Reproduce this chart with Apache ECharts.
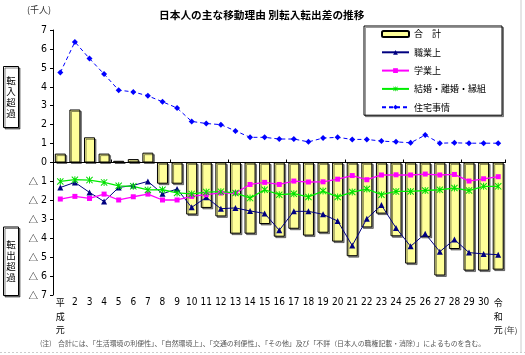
<!DOCTYPE html>
<html><head><meta charset="utf-8">
<script src="https://cdn.jsdelivr.net/npm/echarts@6/dist/echarts.min.js"></script>
<style>html,body{margin:0;padding:0;background:#fff}#c{width:525px;height:355px}</style>
</head><body><div id="c"></div>
<script>
const categories = ['平成元','2','3','4','5','6','7','8','9','10','11','12','13','14','15','16','17','18','19','20','21','22','23','24','25','26','27','28','29','30','令和元'];
const yTicks = [-7,-6,-5,-4,-3,-2,-1,0,1,2,3,4,5,6,7];
const seriesNames = ['合　計','職業上','学業上','結婚・離婚・縁組','住宅事情'];
const total = [0.47,2.80,1.33,0.47,0.09,0.18,0.52,-1.12,-1.12,-2.75,-2.40,-2.85,-3.76,-3.76,-3.25,-3.92,-3.50,-3.86,-3.71,-4.18,-4.95,-3.43,-2.70,-3.90,-5.34,-3.93,-5.97,-4.57,-5.71,-5.71,-5.66];
const occupation = [-1.32,-1.05,-1.58,-2.06,-1.32,-1.21,-1.00,-1.65,-1.40,-2.37,-1.84,-2.44,-2.40,-2.56,-2.69,-3.58,-2.58,-2.58,-2.74,-3.09,-4.39,-2.97,-2.25,-3.46,-4.43,-3.76,-4.71,-4.07,-4.76,-4.83,-4.87];
const education = [-1.93,-1.79,-1.90,-1.67,-1.98,-1.81,-1.67,-1.98,-1.98,-1.79,-1.70,-1.61,-1.61,-1.16,-1.05,-1.16,-0.98,-1.03,-1.02,-0.88,-0.69,-0.91,-0.66,-0.65,-0.66,-0.61,-0.66,-0.63,-0.98,-0.86,-0.75];
const marriage = [-1.00,-0.91,-0.93,-1.05,-1.23,-1.26,-1.45,-1.44,-1.61,-1.66,-1.56,-1.54,-1.61,-1.88,-1.44,-1.70,-1.65,-1.82,-1.51,-1.82,-1.56,-1.40,-1.70,-1.53,-1.53,-1.48,-1.44,-1.35,-1.48,-1.26,-1.26];
const housing = [4.75,6.37,5.49,4.67,3.82,3.73,3.52,3.21,2.88,2.17,2.06,2.00,1.67,1.33,1.33,1.24,1.24,1.09,1.29,1.33,1.22,1.22,1.13,1.09,1.04,1.45,1.02,1.04,1.02,1.02,1.02];

const NUM = "'Liberation Sans Narrow','DejaVu Sans Condensed',sans-serif";
const JP = "'Noto Sans CJK JP',sans-serif";
const ASTER = 'path://M0,1L1,0L10,9L9,10Z M9,0L10,1L1,10L0,9Z M4.3,0L5.7,0L5.7,10L4.3,10Z';

const chart = echarts.init(document.getElementById('c'), null, {renderer: 'canvas'});
const xLabelFmt = v => /^\d+$/.test(v) ? v : v.split('').map(ch => '{c|' + ch + '}').join('\n');

const option = {
  animation: false,
  backgroundColor: '#fff',
  title: {
    text: '日本人の主な移動理由 別転入転出差の推移',
    left: 154, top: 5,
    textStyle: {fontFamily: JP, fontSize: 10.7, fontWeight: 'bold', color: '#000'}
  },
  legend: {
    data: seriesNames,
    orient: 'vertical', left: 364, top: 26,
    itemWidth: 27, itemHeight: 6, itemGap: 6.3,
    padding: [2, 16, 2, 17],
    borderColor: '#000', borderWidth: 1, backgroundColor: '#fff',
    shadowColor: 'rgba(0,0,0,0.4)', shadowOffsetX: 1.5, shadowOffsetY: 1.5, shadowBlur: 0,
    textStyle: {fontFamily: JP, fontSize: 9, lineHeight: 12, color: '#000'}
  },
  grid: {left: 53, right: 19.5, top: 30, bottom: 60},
  xAxis: [
    {
      type: 'category', data: categories, position: 'bottom',
      axisLine: {onZero: true, lineStyle: {color: '#000', width: 1}},
      axisTick: {show: true, inside: true, length: 3, lineStyle: {color: '#000'}},
      axisLabel: {show: false}, splitLine: {show: false}
    },
    {
      type: 'category', data: categories, position: 'bottom',
      axisLine: {show: false, onZero: false}, axisTick: {show: false},
      axisLabel: {
        interval: 0, margin: 1, verticalAlign: 'top', color: '#000',
        fontFamily: NUM, fontSize: 10, lineHeight: 13.5,
        formatter: xLabelFmt,
        rich: {c: {fontFamily: JP, fontSize: 9, lineHeight: 13.5, color: '#000'}}
      }
    }
  ],
  yAxis: {
    type: 'value', min: yTicks[0], max: yTicks[yTicks.length - 1], interval: 1,
    axisLine: {show: true, lineStyle: {color: '#000', width: 1}},
    axisTick: {show: true, length: 3, lineStyle: {color: '#000'}},
    splitLine: {show: false},
    axisLabel: {
      margin: 6, color: '#000', fontFamily: NUM, fontSize: 10.5,
      formatter: v => v < 0 ? '{t|△} ' + (-v) : String(v),
      rich: {t: {fontFamily: JP, fontSize: 9.5, color: '#000'}}
    }
  },
  series: [
    {
      name: seriesNames[0], type: 'bar', data: total, xAxisIndex: 0, barWidth: 11,
      itemStyle: {color: '#ffff99', borderColor: '#000', borderWidth: 1,
        shadowColor: 'rgba(0,0,0,0.45)', shadowOffsetX: 1.5, shadowOffsetY: 1.5, shadowBlur: 0}
    },
    {
      name: seriesNames[1], type: 'line', data: occupation, xAxisIndex: 0,
      symbol: 'triangle', symbolSize: 6, showAllSymbol: true,
      lineStyle: {color: '#000080', width: 1}, itemStyle: {color: '#000080'}
    },
    {
      name: seriesNames[2], type: 'line', data: education, xAxisIndex: 0,
      symbol: 'rect', symbolSize: 5, showAllSymbol: true,
      lineStyle: {color: '#ff00ff', width: 1.3}, itemStyle: {color: '#ff00ff'}
    },
    {
      name: seriesNames[3], type: 'line', data: marriage, xAxisIndex: 0,
      symbol: ASTER, symbolSize: 7, showAllSymbol: true,
      lineStyle: {color: '#00ee00', width: 1.3}, itemStyle: {color: '#00dd00'}
    },
    {
      name: seriesNames[4], type: 'line', data: housing, xAxisIndex: 0,
      symbol: 'diamond', symbolSize: 6, showAllSymbol: true,
      lineStyle: {color: '#0000ff', width: 1, type: [4, 3]}, itemStyle: {color: '#0000ff'}
    }
  ],
  graphic: [
    {type: 'text', left: 27, top: 5, style: {text: '(千人)', font: '9px ' + JP, fill: '#333'}},
    {type: 'rect', shape: {x: 3.5, y: 66.5, width: 15, height: 61},
      style: {fill: '#fff', stroke: '#000', lineWidth: 1, shadowColor: 'rgba(0,0,0,0.5)', shadowOffsetX: 1.5, shadowOffsetY: 1.5}},
    {type: 'text', x: 11, y: 97, style: {text: '転\n入\n超\n過', font: '9.5px ' + JP, fill: '#000',
      textAlign: 'center', textVerticalAlign: 'middle', lineHeight: 11.2}},
    {type: 'rect', shape: {x: 3.5, y: 227, width: 15, height: 68.5},
      style: {fill: '#fff', stroke: '#000', lineWidth: 1, shadowColor: 'rgba(0,0,0,0.5)', shadowOffsetX: 1.5, shadowOffsetY: 1.5}},
    {type: 'text', x: 11, y: 261, style: {text: '転\n出\n超\n過', font: '9.5px ' + JP, fill: '#000',
      textAlign: 'center', textVerticalAlign: 'middle', lineHeight: 11.2}},
    {type: 'text', x: 504, y: 330, style: {text: '(年)', font: '8px ' + JP, fill: '#333', textVerticalAlign: 'middle'}},
    {type: 'text', x: 40, y: 343, style: {text: '(注)', font: '6.9px ' + JP, fill: '#555', textVerticalAlign: 'middle'}},
    {type: 'text', x: 58, y: 343, style: {text: '合計には、「生活環境の利便性」、「自然環境上」、「交通の利便性」、「その他」及び「不詳（日本人の職権記載・消除）」によるものを含む。', font: '6.9px ' + JP, fill: '#555', textVerticalAlign: 'middle'}},
    {type: 'line', shape: {x1: 521, y1: 0, x2: 521, y2: 352}, style: {stroke: '#ccc', lineWidth: 1}},
    {type: 'line', shape: {x1: 0, y1: 352.5, x2: 525, y2: 352.5}, style: {stroke: '#ccc', lineWidth: 1, lineDash: [2, 2]}}
  ]
};
chart.setOption(option);
</script></body></html>
